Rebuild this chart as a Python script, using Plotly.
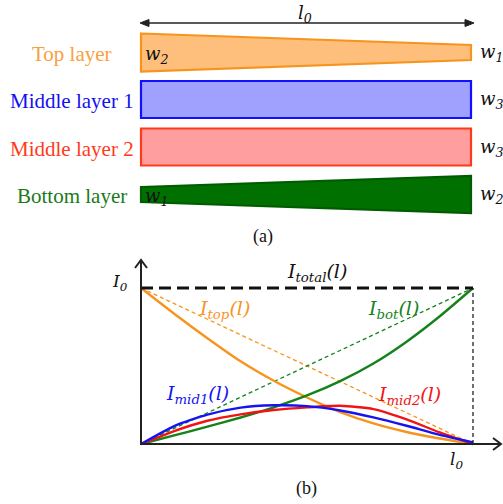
import plotly.graph_objects as go

# ---------------- data: current shares along the stack length (l / l0) ----------------
l_pts = [0.0, 0.1, 0.2, 0.3, 0.4, 0.5, 0.6, 0.7, 0.8, 0.9, 1.0]
i_top = [1.0, 0.835, 0.678, 0.53, 0.405, 0.298, 0.205, 0.132, 0.077, 0.035, 0.0]
i_bot = [0.0, 0.055, 0.111, 0.17, 0.235, 0.311, 0.403, 0.516, 0.656, 0.819, 1.0]
i_mid1 = [0.0, 0.115, 0.188, 0.233, 0.248, 0.243, 0.215, 0.171, 0.117, 0.058, 0.01]
i_mid2 = [0.0, 0.083, 0.149, 0.19, 0.218, 0.235, 0.245, 0.224, 0.158, 0.074, 0.0]
# linear reference lines and the constant total
l_lin = [0.0, 1.0]
i_top_lin = [1.0, 0.0]
i_bot_lin = [0.0, 1.0]
i_total = [1.0, 1.0]

# ---------------- layer stack (panel a) ----------------
layer_names = ["Top layer", "Middle layer 1", "Middle layer 2", "Bottom layer"]
width_left = ["w<sub>2</sub>", "", "", "w<sub>1</sub>"]
width_right = ["w<sub>1</sub>", "w<sub>3</sub>", "w<sub>3</sub>", "w<sub>2</sub>"]

W, H = 503, 504
X0, X1 = 141, 473      # pixel x of l = 0 and l = l0
Y0, Y1 = 444, 288      # pixel y of I = 0 and I = I0

ORANGE = "#F7941D"
GREEN = "#13821A"
BLUE = "#1414F0"
RED = "#F01414"
AXIS = "#222222"
SERIF = "Liberation Serif"
MATH = "DejaVu Serif"

fig = go.Figure()

# panel (b) axes: pixel box [100, 503] x [250, 470] mapped to data coordinates
px_l, px_r, px_t, px_b = 100, 503, 250, 470
sx = X1 - X0
sy = Y0 - Y1
x2_range = [(px_l - X0) / sx, (px_r - X0) / sx]
y2_range = [(Y0 - px_b) / sy, (Y0 - px_t) / sy]

def add_curve(y, color, width, dash="solid", x=None, spline=True):
    fig.add_trace(go.Scatter(
        x=x if x is not None else l_pts, y=y, mode="lines",
        line=dict(color=color, width=width, dash=dash,
                  shape="spline" if spline else "linear", smoothing=0.6),
        xaxis="x2", yaxis="y2", hoverinfo="skip", showlegend=False))

# dashed linear references
add_curve(i_top_lin, ORANGE, 1.3, "4px,3px", x=l_lin, spline=False)
add_curve(i_bot_lin, GREEN, 1.3, "4px,3px", x=l_lin, spline=False)
# solid distributions
add_curve(i_top, ORANGE, 2.4)
add_curve(i_bot, GREEN, 2.4)
add_curve(i_mid2, RED, 2.4)
add_curve(i_mid1, BLUE, 2.4)
# total current
add_curve(i_total, "#111111", 3, "12px,6px", x=l_lin, spline=False)

shapes = []

def px_line(x0, y0, x1, y1, color=AXIS, width=2):
    shapes.append(dict(type="line", xref="x", yref="y", x0=x0, y0=y0, x1=x1, y1=y1,
                       line=dict(color=color, width=width)))

def px_path(path, color=AXIS, width=2, fill=None):
    d = dict(type="path", xref="x", yref="y", path=path,
             line=dict(color=color, width=width))
    if fill:
        d["fillcolor"] = fill
    shapes.append(d)

# axes with open arrow heads
px_line(X0, Y0 + 1, X0, 260)
px_path(f"M {X0-6},{268} L {X0},{260} L {X0+6},{268}")
px_line(X0 - 1, Y0, 501, Y0)
px_path(f"M {493},{Y0-6} L {501},{Y0} L {493},{Y0+6}")
# vertical guide at l = l0
shapes.append(dict(type="line", xref="x2", yref="y2", x0=1, x1=1, y0=0, y1=1,
                   line=dict(color="#222222", width=1.3, dash="4px,3px")))

# l0 dimension arrow above the stack
ya = 23
px_line(146, ya, 468, ya, color="#222222", width=1.5)
px_path(f"M 140,{ya} L 149,{ya-3.5} L 149,{ya+3.5} Z", color="#222222", width=1, fill="#222222")
px_path(f"M 474,{ya} L 465,{ya-3.5} L 465,{ya+3.5} Z", color="#222222", width=1, fill="#222222")

# layer outlines: (centre y, half height left, half height right)
layer_geom = [(52.5, 19, 7.5), (99.5, 18.5, 18.5), (147, 18.5, 18.5), (194.5, 7.5, 18.5)]
layer_fill = ["#FDBF7B", "#A0A0FF", "#FF9E9E", "#007100"]
layer_edge = ["#F7941D", "#1010FF", "#FF3A1A", "#005C00"]
layer_text = ["#F9A040", "#1010F0", "#FF3A1A", "#1A7A1A"]
xl, xr = 141, 471
for (cy, hl, hr), fc, ec in zip(layer_geom, layer_fill, layer_edge):
    px_path(f"M {xl},{cy-hl} L {xr},{cy-hr} L {xr},{cy+hr} L {xl},{cy+hl} Z",
            color=ec, width=2.2, fill=fc)

annotations = []

def text(x, y, s, color="#111111", size=21, family=SERIF, italic=False, ref="px"):
    annotations.append(dict(
        x=x, y=y, xref="x" if ref == "px" else "x2", yref="y" if ref == "px" else "y2",
        text=f"<i>{s}</i>" if italic else s, showarrow=False,
        xanchor="center", yanchor="middle",
        font=dict(color=color, size=size, family=family)))

for (cy, _, _), name, col, wl, wr in zip(layer_geom, layer_names, layer_text,
                                          width_left, width_right):
    text(72, cy + 1.5, name, color=col, size=21)
    if wl:
        text(156, cy + 2, wl, size=18, family=MATH, italic=True)
    text(491, cy + 0.5, wr, size=18, family=MATH, italic=True)

text(305, 14, "l<sub>0</sub>", size=18, family=MATH, italic=True)
text(263, 236, "(a)", size=18)
text(306, 488, "(b)", size=18)
text(120, 282, "I<sub>0</sub>", size=17, family=MATH, italic=True)
text(456, 460, "l<sub>0</sub>", size=17, family=MATH, italic=True)

# curve labels placed in data coordinates of panel (b)
text(0.53, 1.10, "I<sub>total</sub>(l)", size=19, family=MATH, italic=True, ref="d")
text(0.25, 0.86, "I<sub>top</sub>(l)", color=ORANGE, size=19, family=MATH, italic=True, ref="d")
text(0.76, 0.86, "I<sub>bot</sub>(l)", color=GREEN, size=19, family=MATH, italic=True, ref="d")
text(0.17, 0.32, "I<sub>mid1</sub>(l)", color=BLUE, size=19, family=MATH, italic=True, ref="d")
text(0.81, 0.31, "I<sub>mid2</sub>(l)", color=RED, size=19, family=MATH, italic=True, ref="d")

hidden = dict(visible=False, showgrid=False, zeroline=False, fixedrange=True)
fig.update_layout(
    width=W, height=H,
    margin=dict(l=0, r=0, t=0, b=0),
    paper_bgcolor="white", plot_bgcolor="rgba(0,0,0,0)",
    showlegend=False,
    xaxis=dict(range=[0, W], domain=[0, 1], **hidden),
    yaxis=dict(range=[H, 0], domain=[0, 1], **hidden),
    xaxis2=dict(range=x2_range, domain=[px_l / W, px_r / W], anchor="y2", **hidden),
    yaxis2=dict(range=y2_range, domain=[(H - px_b) / H, (H - px_t) / H], anchor="x2", **hidden),
    shapes=shapes,
    annotations=annotations,
)

fig.write_html("out.html")
